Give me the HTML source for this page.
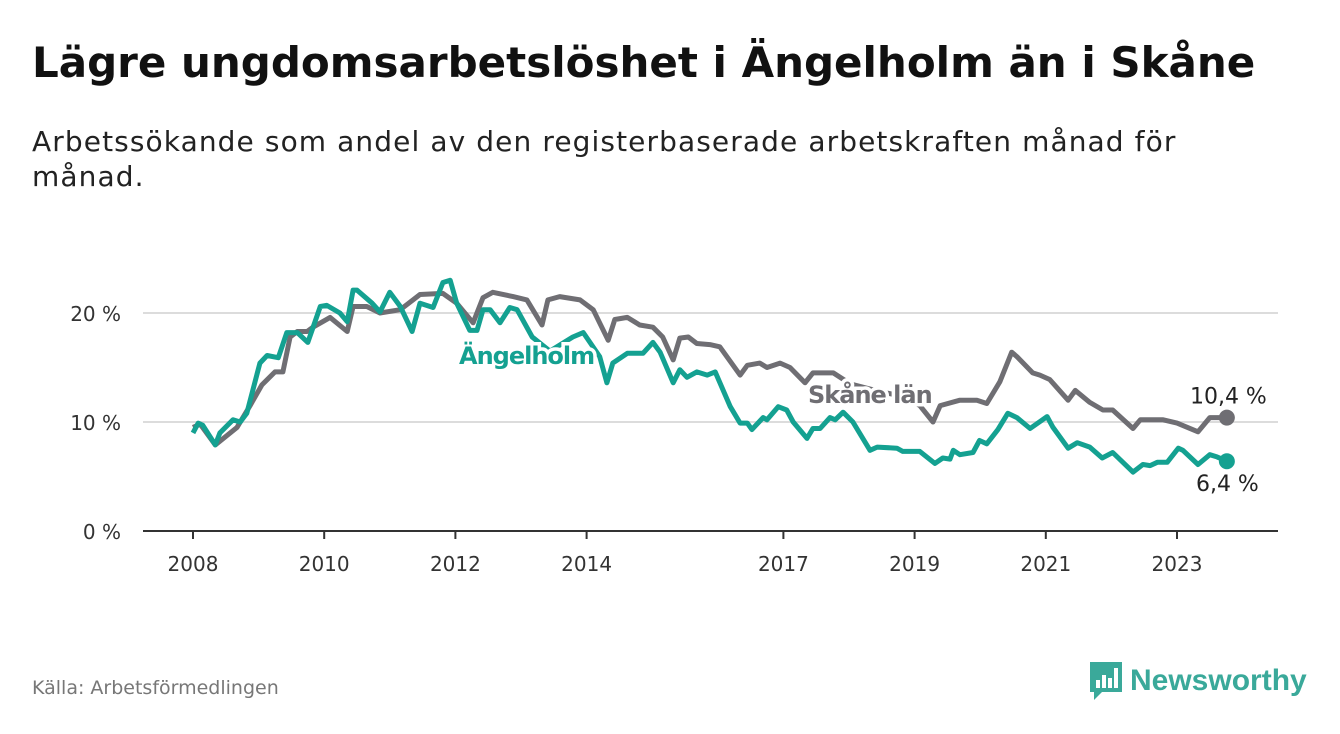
<!DOCTYPE html>
<html><head><meta charset="utf-8"><style>
body{margin:0;width:1340px;height:734px;background:#fff;font-family:"DejaVu Sans","Liberation Sans",sans-serif;overflow:hidden;position:relative}
h1{position:absolute;left:32px;top:38px;margin:0;font-size:42px;font-weight:bold;color:#111;white-space:nowrap}
.sub{position:absolute;left:32px;top:124px;width:1200px;font-size:28px;line-height:35px;color:#222;letter-spacing:1.1px}
.src{position:absolute;left:32px;top:677px;font-size:19px;color:#777}
</style></head><body>
<h1>Lägre ungdomsarbetslöshet i Ängelholm än i Skåne</h1>
<div class="sub">Arbetssökande som andel av den registerbaserade arbetskraften månad för månad.</div>
<div class="src">Källa: Arbetsförmedlingen</div>
<svg id="chart" width="1340" height="734" style="position:absolute;left:0;top:0"></svg>
<div style="position:absolute;left:1088px;top:661px;height:40px;display:flex;align-items:center">
<svg width="36" height="42" viewBox="0 0 36 42"><path d="M2 2h32v30H14l-8 8v-8H2z" fill="#3aa99a"/><rect x="8" y="20" width="4" height="8" fill="#fff"/><rect x="14" y="15" width="4" height="13" fill="#fff"/><rect x="20" y="18" width="4" height="10" fill="#fff"/><rect x="26" y="8" width="4" height="20" fill="#fff"/></svg>
<span style="font-family:'Liberation Sans',sans-serif;font-size:30px;font-weight:bold;color:#3aa99a;margin-left:6px">Newsworthy</span></div>
<script>
const yTicks=[0,10,20];
const xTickYears=[2008,2010,2012,2014,2017,2019,2021,2023];
const skaneT=[0,.11,.34,.67,.87,1.05,1.25,1.37,1.48,1.59,1.74,1.83,2.09,2.35,2.44,2.65,2.85,3.16,3.46,3.81,4.02,4.27,4.42,4.57,4.88,5.09,5.32,5.41,5.59,5.90,6.10,6.33,6.43,6.62,6.81,7.01,7.16,7.32,7.42,7.55,7.68,7.88,8.03,8.34,8.45,8.64,8.75,8.95,9.10,9.33,9.45,9.76,10.02,10.47,10.85,11.08,11.28,11.39,11.69,11.95,12.10,12.30,12.48,12.56,12.80,12.91,13.06,13.34,13.45,13.67,13.87,14.02,14.33,14.44,14.79,15.00,15.32,15.50,15.76];
const skaneV=[9.5,9.8,7.9,9.5,11.5,13.4,14.6,14.6,17.8,18.3,18.3,18.7,19.6,18.3,20.6,20.6,20.0,20.3,21.7,21.8,20.9,19.1,21.4,21.9,21.5,21.2,18.9,21.2,21.5,21.2,20.3,17.5,19.4,19.6,18.9,18.7,17.8,15.7,17.7,17.8,17.2,17.1,16.9,14.3,15.2,15.4,15.0,15.4,15.0,13.6,14.5,14.5,13.5,12.8,12.3,11.5,10.0,11.5,12.0,12.0,11.7,13.7,16.4,16.0,14.5,14.3,13.9,12.0,12.9,11.8,11.1,11.1,9.4,10.2,10.2,9.9,9.1,10.4,10.4];
const angT=[0,.08,.15,.34,.41,.61,.72,.82,1.02,1.13,1.30,1.43,1.59,1.75,1.94,2.04,2.24,2.35,2.44,2.50,2.73,2.85,3.00,3.16,3.34,3.46,3.66,3.81,3.92,4.02,4.22,4.33,4.42,4.53,4.68,4.83,4.94,5.17,5.44,5.79,5.95,6.20,6.31,6.40,6.62,6.86,7.01,7.12,7.32,7.42,7.53,7.68,7.84,7.96,8.19,8.34,8.45,8.52,8.69,8.75,8.92,9.05,9.15,9.36,9.45,9.56,9.71,9.79,9.91,10.06,10.32,10.43,10.73,10.82,11.08,11.31,11.43,11.54,11.59,11.69,11.89,11.99,12.10,12.27,12.42,12.56,12.76,13.02,13.11,13.34,13.48,13.67,13.86,14.02,14.33,14.48,14.59,14.70,14.85,15.02,15.09,15.32,15.50,15.61,15.76];
const angV=[9.0,9.9,9.7,7.9,9.0,10.2,10.0,10.8,15.4,16.1,15.9,18.2,18.2,17.3,20.6,20.7,20.0,19.2,22.1,22.1,20.9,20.1,21.9,20.6,18.3,20.9,20.5,22.8,23.0,20.9,18.4,18.4,20.3,20.3,19.1,20.5,20.3,17.8,16.5,17.8,18.2,16.0,13.6,15.4,16.3,16.3,17.3,16.4,13.6,14.8,14.1,14.6,14.3,14.6,11.4,9.9,9.9,9.3,10.4,10.2,11.4,11.1,10.0,8.5,9.4,9.4,10.4,10.2,10.9,10.0,7.4,7.7,7.6,7.3,7.3,6.2,6.7,6.6,7.4,7.0,7.2,8.3,8.0,9.3,10.8,10.4,9.4,10.5,9.5,7.6,8.1,7.7,6.7,7.2,5.4,6.1,6.0,6.3,6.3,7.6,7.4,6.1,7.0,6.8,6.4];
const lastLabels=["10,4 %","6,4 %"];
const svg=document.getElementById('chart');const NS='http://www.w3.org/2000/svg';
const xs=t=>193+t*65.6, xYear=y=>xs(y-2008), ys=v=>531-10.9*v;
function mk(tag,at,txt){const e=document.createElementNS(NS,tag);for(const k in at)e.setAttribute(k,at[k]);if(txt!==undefined)e.textContent=txt;svg.appendChild(e);return e;}
yTicks.forEach(v=>{
 const l=mk('line',{x1:143,x2:1278,y1:ys(v),y2:ys(v),stroke:v?'#dcdcdc':'#333','stroke-width':2});
 
 
 const t=mk('text',{x:121,y:ys(v)+8,'text-anchor':'end','font-size':20,fill:'#333'},v+' %');
 
 
});
xTickYears.forEach(y=>{
 const l=mk('line',{x1:xYear(y),x2:xYear(y),y1:531,y2:539,stroke:'#333','stroke-width':2});
 
 
 const t=mk('text',{x:xYear(y),y:571,'text-anchor':'middle','font-size':20,fill:'#333'},y);
 
 
});
function line(T,V,col,name){
 const d=T.map((t,i)=>(i?'L':'M')+xs(t).toFixed(1)+','+ys(V[i]).toFixed(1)).join('');
 const p=mk('path',{d:d,fill:'none',stroke:col,'stroke-width':5,'stroke-linejoin':'round'});
 
 
 const n=T.length-1;
 const c=mk('circle',{cx:xs(T[n]),cy:ys(V[n]),r:8,fill:col});
 
 
}
line(skaneT,skaneV,'#6f6e73','skane');
line(angT,angV,'#14a191','angelholm');
const n1=skaneT.length-1,n2=angT.length-1;
let t=mk('text',{x:xs(skaneT[n1])+40,y:ys(skaneV[n1])-14,'text-anchor':'end','font-size':22,fill:'#222'},lastLabels[0]);


t=mk('text',{x:xs(angT[n2])+32,y:ys(angV[n2])+30,'text-anchor':'end','font-size':22,fill:'#222'},lastLabels[1]);


t=mk('text',{x:459,y:364,'font-size':24,'font-weight':'bold',fill:'#14a191',stroke:'#fff','stroke-width':7,'paint-order':'stroke','letter-spacing':-1},'Ängelholm');


t=mk('text',{x:808,y:403,'font-size':24,'font-weight':'bold',fill:'#6f6e73',stroke:'#fff','stroke-width':7,'paint-order':'stroke','letter-spacing':-1},'Skåne län');


</script>
</body></html>
